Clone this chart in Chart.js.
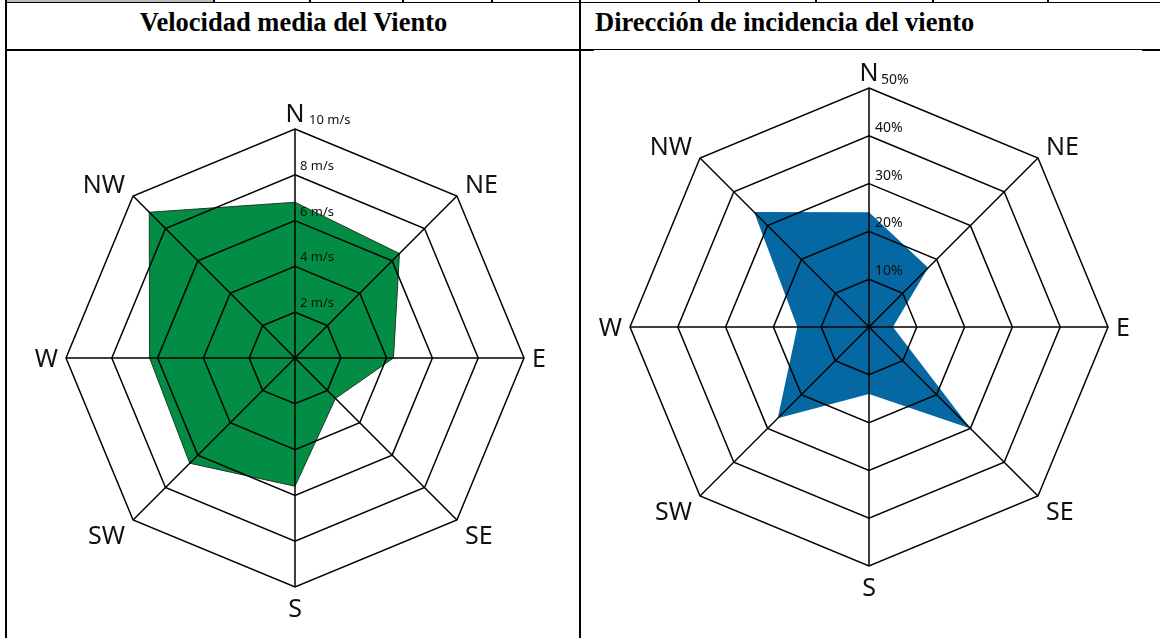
<!DOCTYPE html>
<html>
<head>
<meta charset="utf-8">
<script src="https://cdn.jsdelivr.net/npm/chart.js@4.4.1/dist/chart.umd.min.js"></script>
<style>
  body { margin: 0; background: #fff; }
  #page { position: relative; width: 1160px; height: 638px; overflow: hidden; background: #fff; }
  .line { position: absolute; background: #000; }
  .title { position: absolute; top: 7px; font: bold 26.5px/1.15 "Liberation Serif", "Times New Roman", serif; color: #000; white-space: nowrap; }
  canvas { position: absolute; }
</style>
</head>
<body>
<div id="page">
  <div class="line" style="left:7px;top:0;width:206px;height:2px;background:#bdbdbd"></div>
  <div class="line" style="left:5px;top:2px;width:1155px;height:1px"></div>
  <div id="ticks"></div>
  <div class="line" style="left:5px;top:0;width:2px;height:638px"></div>
  <div class="line" style="left:579px;top:0;width:2px;height:638px"></div>
  <div class="line" style="left:5px;top:49px;width:589px;height:2px"></div>
  <div class="line" style="left:594px;top:49px;width:548px;height:1px"></div>
  <div class="line" style="left:1142px;top:49px;width:18px;height:2px"></div>
  <div class="title" style="left:7px;width:573px;text-align:center">Velocidad media del Viento</div>
  <div class="title" style="left:595px">Dirección de incidencia del viento</div>
  <canvas id="speedChart" width="538" height="538" style="left:26px;top:89px"></canvas>
  <canvas id="dirChart" width="558" height="558" style="left:590px;top:48px"></canvas>
</div>
<script>
// wind rose data
const directions = ['N', 'NE', 'E', 'SE', 'S', 'SW', 'W', 'NW'];
const speedValues = [6.8, 6.45, 4.3, 2.5, 5.6, 6.5, 6.35, 9.0]; // m/s
const speedTicks = [2, 4, 6, 8, 10];
const frequencyValues = [24, 17.5, 5, 30, 14, 27, 15, 34]; // %
const frequencyTicks = [10, 20, 30, 40, 50];
const topRowSeparators = [213, 309, 402, 491, 698, 815, 932, 1047];

const tickBox = document.getElementById('ticks');
topRowSeparators.forEach((x) => {
  const d = document.createElement('div');
  d.className = 'line';
  d.style.cssText = 'left:' + x + 'px;top:0;width:2px;height:3px';
  tickBox.appendChild(d);
});

// direction labels + tick labels drawn over the grid
const roseLabels = {
  id: 'roseLabels',
  afterDraw(chart, args, opts) {
    const scale = chart.scales.r;
    const ctx = chart.ctx;
    const R = scale.drawingArea;
    ctx.save();
    ctx.fillStyle = '#111';

    // compass labels
    const size = 25;
    const capH = size * 0.714;
    ctx.font = size + 'px "Noto Sans"';
    directions.forEach((lbl, i) => {
      const v = scale.getPointPosition(i, R);
      const a = scale.getIndexAngle(i);
      const dx = Math.sin(a), dy = -Math.cos(a);
      let x = v.x, y;
      if (dx > 0.1) { ctx.textAlign = 'left'; x += 8; }
      else if (dx < -0.1) { ctx.textAlign = 'right'; x -= 8; }
      else ctx.textAlign = 'center';
      ctx.textBaseline = 'alphabetic';
      if (dy < -0.1) y = v.y - 7 * dy * dy;
      else if (dy > 0.1) y = v.y + 12 * dy * dy + capH;
      else y = v.y + capH / 2;
      ctx.fillText(lbl, x, y);
    });

    // ring values
    ctx.font = opts.tickSize + 'px "Noto Sans"';
    ctx.textAlign = 'left';
    opts.ticks.forEach((t, i) => {
      const d = scale.getDistanceFromCenterForValue(t);
      const last = i === opts.ticks.length - 1;
      const x = scale.xCenter + (last ? opts.lastShift : opts.shift);
      ctx.fillText(t + opts.unit, x, scale.yCenter - d - opts.lift);
    });
    ctx.restore();
  }
};

function radarOptions(max, step, labelOpts) {
  return {
    responsive: false,
    animation: false,
    layout: { padding: 40 },
    plugins: {
      legend: { display: false },
      tooltip: { enabled: false },
      roseLabels: labelOpts
    },
    scales: {
      r: {
        min: 0,
        max: max,
        ticks: { display: false, stepSize: step },
        pointLabels: { display: false },
        grid: { color: '#000', lineWidth: 1.5, z: 1 },
        angleLines: { color: '#000', lineWidth: 1.5 }
      }
    },
    elements: { point: { radius: 0 }, line: { tension: 0 } }
  };
}

new Chart(document.getElementById('speedChart'), {
  type: 'radar',
  data: {
    labels: directions,
    datasets: [{
      data: speedValues,
      backgroundColor: '#028c44',
      borderColor: '#1d3a25',
      borderWidth: 1,
      fill: true
    }]
  },
  options: radarOptions(10, 2, { ticks: speedTicks, unit: ' m/s', tickSize: 13, shift: 5, lastShift: 14, lift: 5 }),
  plugins: [roseLabels]
});

new Chart(document.getElementById('dirChart'), {
  type: 'radar',
  data: {
    labels: directions,
    datasets: [{
      data: frequencyValues,
      backgroundColor: '#0568a3',
      borderWidth: 0,
      fill: true
    }]
  },
  options: radarOptions(50, 10, { ticks: frequencyTicks, unit: '%', tickSize: 14, shift: 6, lastShift: 12, lift: 4 }),
  plugins: [roseLabels]
});
</script>
</body>
</html>
